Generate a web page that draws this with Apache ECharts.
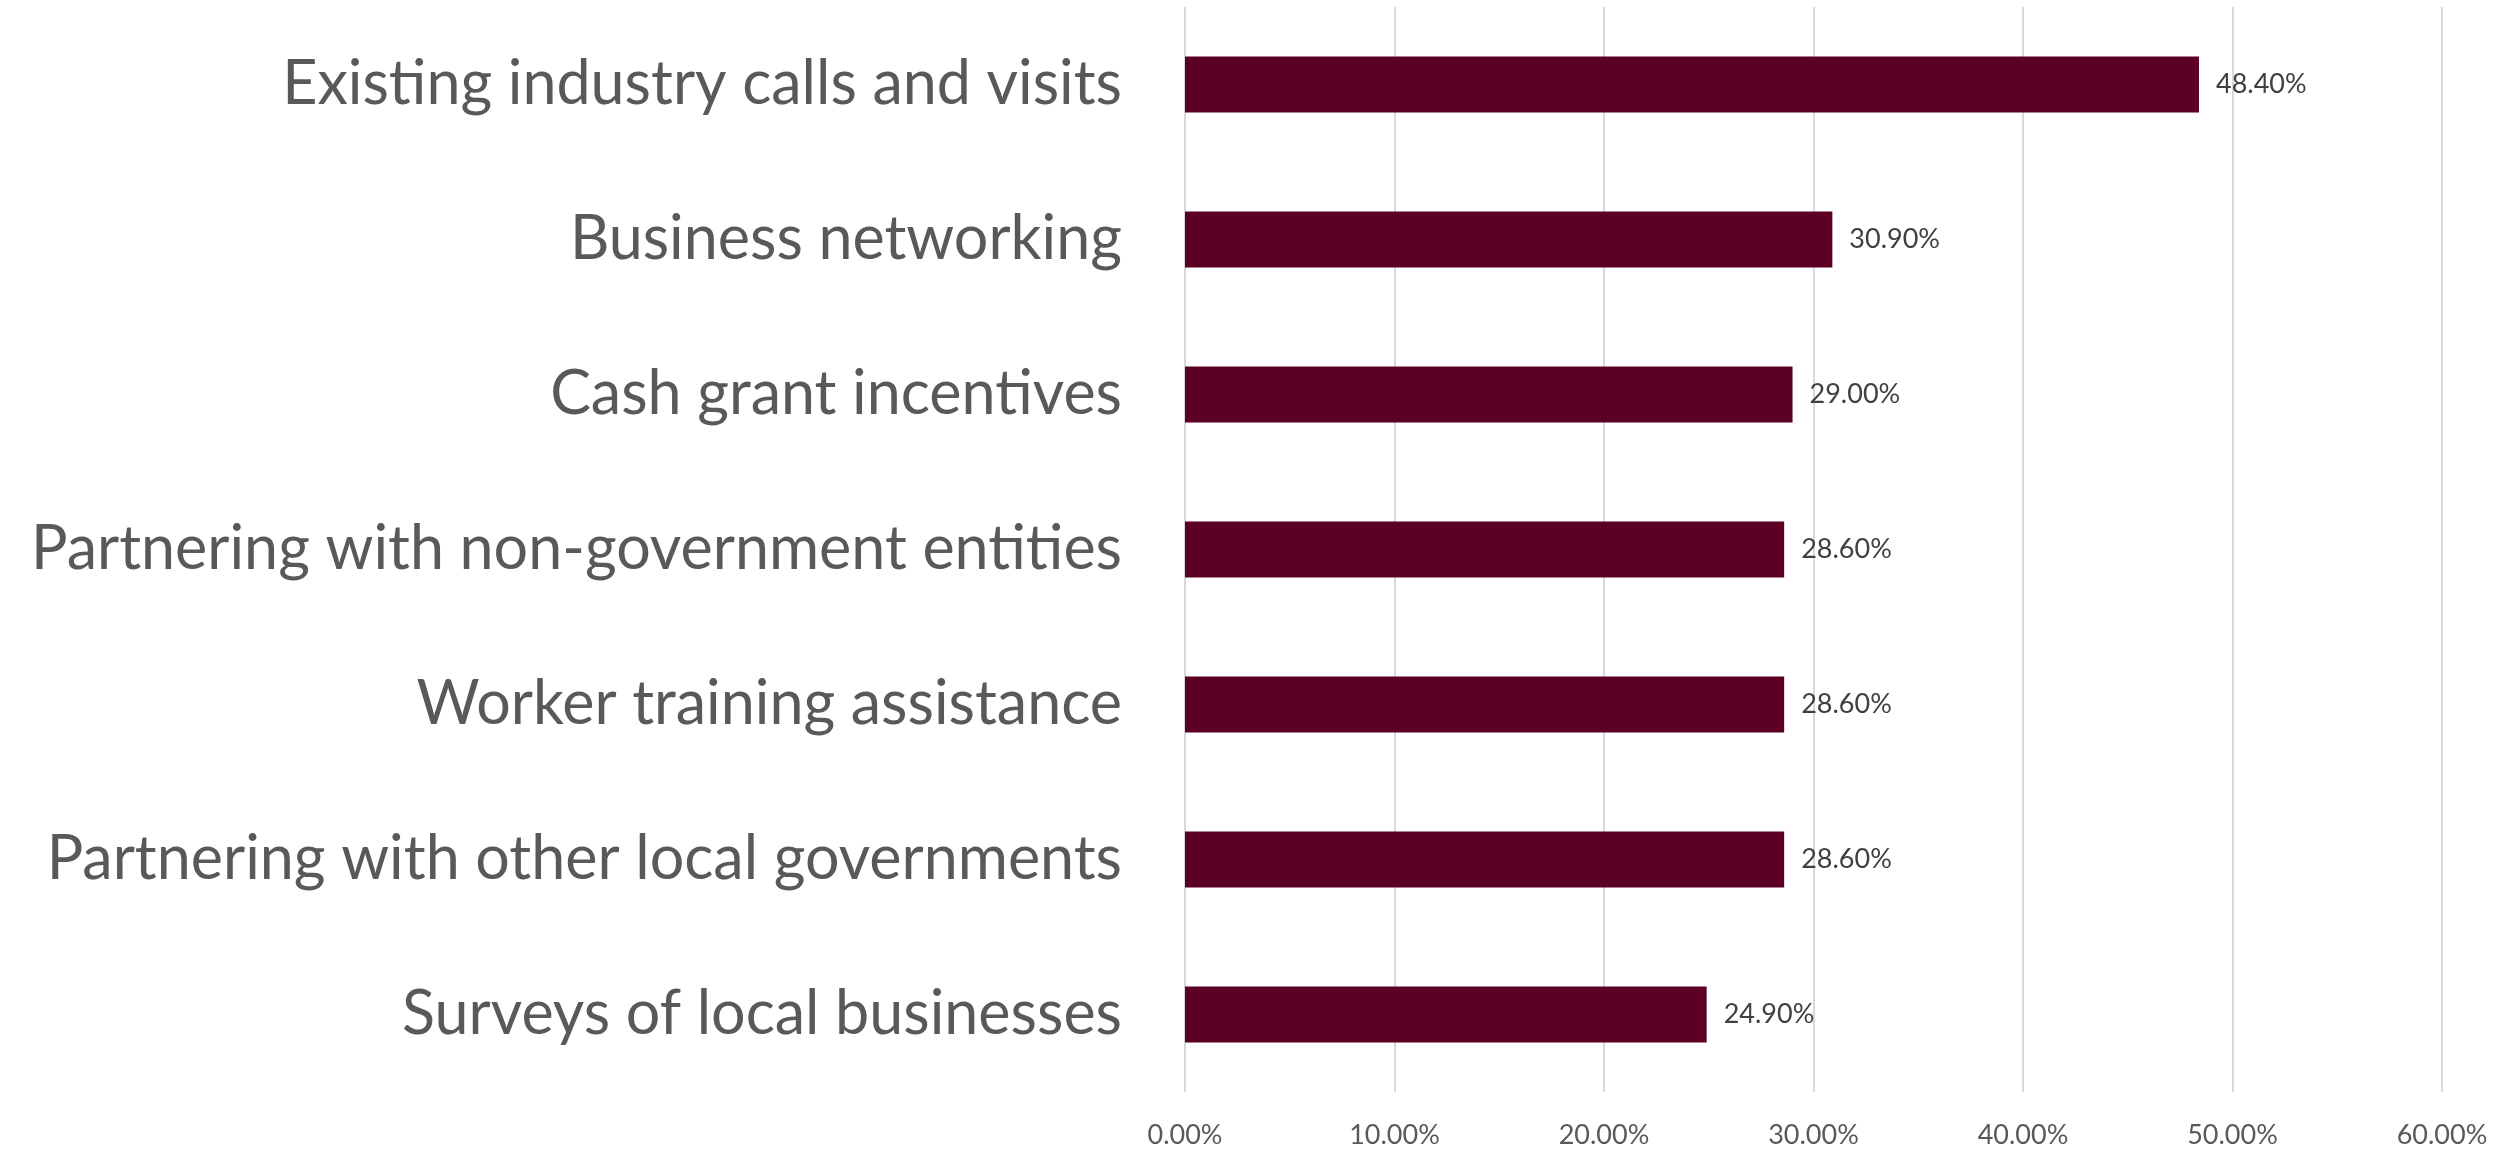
<!DOCTYPE html>
<html><head><meta charset="utf-8">
<script src="https://cdn.jsdelivr.net/npm/echarts@6/dist/echarts.min.js"></script>
<style>html,body{margin:0;padding:0;background:#fff}#c{width:2502px;height:1150px}</style>
</head><body><div id="c"></div>
<script>
const categories = [
  "Existing industry calls and visits",
  "Business networking",
  "Cash grant incentives",
  "Partnering with non-government entities",
  "Worker training assistance",
  "Partnering with other local governments",
  "Surveys of local businesses"
];
const values = [48.4, 30.9, 29.0, 28.6, 28.6, 28.6, 24.9];
const xTicks = { min: 0, max: 60, interval: 10 };

const FONT = "Lato";
const chart = echarts.init(document.getElementById('c'), null, {renderer: 'canvas'});
chart.setOption({
  animation: false,
  grid: { left: 1185, right: 60, top: 7, bottom: 58, containLabel: false },
  xAxis: {
    type: 'value', min: xTicks.min, max: xTicks.max, interval: xTicks.interval,
    axisLine: { show: false }, axisTick: { show: false },
    splitLine: { show: true, lineStyle: { color: '#d9d9d9', width: 2 } },
    axisLabel: { formatter: v => v.toFixed(2) + '%', color: '#595959', fontSize: 27, fontFamily: FONT, margin: 30 }
  },
  yAxis: {
    type: 'category', data: categories, inverse: true,
    axisLine: { show: false }, axisTick: { show: false },
    axisLabel: { color: '#595959', fontSize: 61, fontFamily: FONT, margin: 63, padding: [6, 0, 0, 0] }
  },
  series: [{
    type: 'bar', data: values, barWidth: 56,
    itemStyle: { color: '#5c0026' },
    label: { show: true, position: 'right', distance: 17, formatter: p => p.value.toFixed(2) + '%', color: '#404040', fontSize: 27, fontFamily: FONT, padding: [4, 0, 0, 0] }
  }]
});
</script></body></html>
